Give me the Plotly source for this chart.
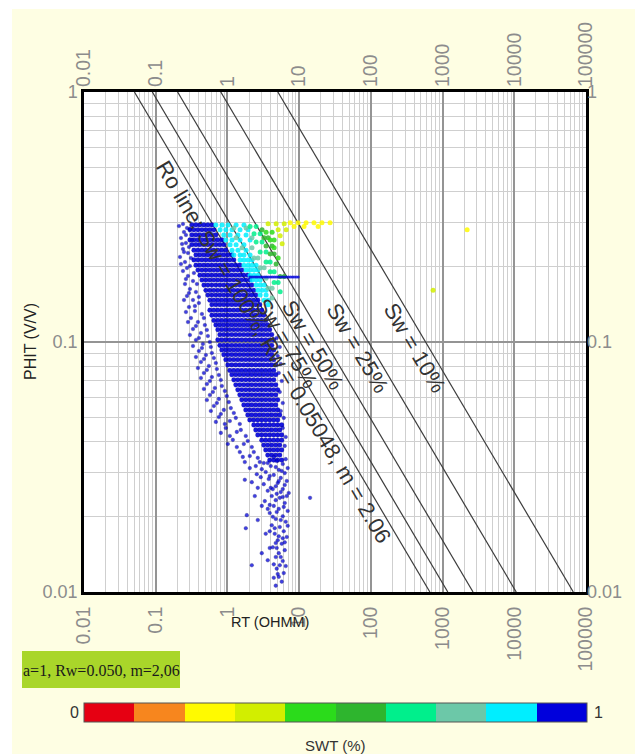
import math
import plotly.graph_objects as go

# ---------------- axis ticks ----------------
x_tickvals = [0.01, 0.1, 1, 10, 100, 1000, 10000, 100000]
x_ticktext = ["0.01", "0.1", "1", "10", "100", "1000", "10000", "100000"]
y_tickvals = [0.01, 0.1, 1]
y_ticktext = ["0.01", "0.1", "1"]

# ---------------- Pickett-plot parameters ----------------
a_coef = 1.0
rw = 0.05048
m_exp = 2.06
n_exp = 2.0
sw_lines = [1.0, 0.75, 0.50, 0.25, 0.10]
sw_labels = ["Ro line: Sw = 100%, Rw = 0.05048, m = 2.06",
             "Sw = 75%", "Sw = 50%", "Sw = 25%", "Sw = 10%"]
label_phi = [0.0964, 0.1047, 0.1028, 0.100, 0.100]
phi_ends = [1.0, 0.01]

# ---------------- SWT colour classes (10 bins) ----------------
swt_colors = ["#E60012", "#F7861E", "#FFFA00", "#D2EE00", "#2BDB1B",
              "#2EB52E", "#00EF8C", "#6CC8A8", "#00EEFF", "#0000DC"]

# ---------------- dense core of the cloud (SWT = 1) ----------------
core_phi_rows = [0.294, 0.281, 0.268, 0.256, 0.245, 0.233, 0.223, 0.213, 0.203, 0.194,
                 0.185, 0.177, 0.169, 0.161, 0.154, 0.147, 0.141, 0.134, 0.128, 0.122,
                 0.117, 0.112, 0.107, 0.102, 0.097, 0.093, 0.089, 0.085, 0.081, 0.077,
                 0.074, 0.0706, 0.0674, 0.0644, 0.0615, 0.0587, 0.056, 0.0535, 0.0511, 0.0488,
                 0.0466, 0.0445, 0.0425, 0.0405, 0.0387, 0.037, 0.0353, 0.0337]
core_rt_rows = [
    [0.320, 0.364, 0.413, 0.470, 0.534, 0.607],
    [0.300, 0.341, 0.388, 0.441, 0.501, 0.569, 0.647],
    [0.320, 0.364, 0.413, 0.470, 0.534, 0.607, 0.690],
    [0.300, 0.341, 0.388, 0.441, 0.501, 0.569, 0.647, 0.735, 0.836],
    [0.320, 0.364, 0.413, 0.470, 0.534, 0.607, 0.690, 0.784, 0.891],
    [0.341, 0.388, 0.441, 0.501, 0.569, 0.647, 0.735, 0.836, 0.950],
    [0.364, 0.413, 0.470, 0.534, 0.607, 0.690, 0.784, 0.891, 1.013, 1.152],
    [0.341, 0.388, 0.441, 0.501, 0.569, 0.647, 0.735, 0.836, 0.950, 1.080, 1.228],
    [0.364, 0.413, 0.470, 0.534, 0.607, 0.690, 0.784, 0.891, 1.013, 1.152, 1.309, 1.488],
    [0.388, 0.441, 0.501, 0.569, 0.647, 0.735, 0.836, 0.950, 1.080, 1.228, 1.396, 1.587],
    [0.413, 0.470, 0.534, 0.607, 0.690, 0.784, 0.891, 1.013, 1.152, 1.309, 1.488, 1.692, 1.923],
    [0.441, 0.501, 0.569, 0.647, 0.735, 0.836, 0.950, 1.080, 1.228, 1.396, 1.587, 1.804, 2.050],
    [0.470, 0.534, 0.607, 0.690, 0.784, 0.891, 1.013, 1.152, 1.309, 1.488, 1.692, 1.923, 2.186],
    [0.501, 0.569, 0.647, 0.735, 0.836, 0.950, 1.080, 1.228, 1.396, 1.587, 1.804, 2.050, 2.331],
    [0.534, 0.607, 0.690, 0.784, 0.891, 1.013, 1.152, 1.309, 1.488, 1.692, 1.923, 2.186, 2.485],
    [0.569, 0.647, 0.735, 0.836, 0.950, 1.080, 1.228, 1.396, 1.587, 1.804, 2.050, 2.331, 2.650],
    [0.607, 0.690, 0.784, 0.891, 1.013, 1.152, 1.309, 1.488, 1.692, 1.923, 2.186, 2.485, 2.825],
    [0.569, 0.647, 0.735, 0.836, 0.950, 1.080, 1.228, 1.396, 1.587, 1.804, 2.050, 2.331, 2.650, 3.012],
    [0.607, 0.690, 0.784, 0.891, 1.013, 1.152, 1.309, 1.488, 1.692, 1.923, 2.186, 2.485, 2.825, 3.21],
    [0.647, 0.735, 0.836, 0.950, 1.080, 1.228, 1.396, 1.587, 1.804, 2.050, 2.331, 2.650, 3.012, 3.42],
    [0.690, 0.784, 0.891, 1.013, 1.152, 1.309, 1.488, 1.692, 1.923, 2.186, 2.485, 2.825, 3.21, 3.65],
    [0.735, 0.836, 0.950, 1.080, 1.228, 1.396, 1.587, 1.804, 2.050, 2.331, 2.650, 3.012, 3.42, 3.89],
    [0.784, 0.891, 1.013, 1.152, 1.309, 1.488, 1.692, 1.923, 2.186, 2.485, 2.825, 3.21, 3.65, 4.15],
    [0.735, 0.836, 0.950, 1.080, 1.228, 1.396, 1.587, 1.804, 2.050, 2.331, 2.650, 3.012, 3.42, 3.89, 4.43],
    [0.784, 0.891, 1.013, 1.152, 1.309, 1.488, 1.692, 1.923, 2.186, 2.485, 2.825, 3.21, 3.65, 4.15],
    [0.836, 0.950, 1.080, 1.228, 1.396, 1.587, 1.804, 2.050, 2.331, 2.650, 3.012, 3.42, 3.89, 4.43],
    [0.891, 1.013, 1.152, 1.309, 1.488, 1.692, 1.923, 2.186, 2.485, 2.825, 3.21, 3.65, 4.15],
    [0.950, 1.080, 1.228, 1.396, 1.587, 1.804, 2.050, 2.331, 2.650, 3.012, 3.42, 3.89, 4.43],
    [1.013, 1.152, 1.309, 1.488, 1.692, 1.923, 2.186, 2.485, 2.825, 3.21, 3.65, 4.15, 4.72],
    [1.080, 1.228, 1.396, 1.587, 1.804, 2.050, 2.331, 2.650, 3.012, 3.42, 3.89, 4.43],
    [1.152, 1.309, 1.488, 1.692, 1.923, 2.186, 2.485, 2.825, 3.21, 3.65, 4.15, 4.72],
    [1.228, 1.396, 1.587, 1.804, 2.050, 2.331, 2.650, 3.012, 3.42, 3.89, 4.43],
    [1.309, 1.488, 1.692, 1.923, 2.186, 2.485, 2.825, 3.21, 3.65, 4.15, 4.72],
    [1.396, 1.587, 1.804, 2.050, 2.331, 2.650, 3.012, 3.42, 3.89, 4.43, 5.03],
    [1.488, 1.692, 1.923, 2.186, 2.485, 2.825, 3.21, 3.65, 4.15, 4.72],
    [1.587, 1.804, 2.050, 2.331, 2.650, 3.012, 3.42, 3.89, 4.43, 5.03],
    [1.692, 1.923, 2.186, 2.485, 2.825, 3.21, 3.65, 4.15, 4.72],
    [1.804, 2.050, 2.331, 2.650, 3.012, 3.42, 3.89, 4.43, 5.03],
    [1.923, 2.186, 2.485, 2.825, 3.21, 3.65, 4.15, 4.72, 5.37],
    [2.050, 2.331, 2.650, 3.012, 3.42, 3.89, 4.43, 5.03],
    [2.331, 2.650, 3.012, 3.42, 3.89, 4.43, 5.03, 5.72],
    [2.485, 2.825, 3.21, 3.65, 4.15, 4.72, 5.37],
    [2.650, 3.012, 3.42, 3.89, 4.43, 5.03, 5.72],
    [3.012, 3.42, 3.89, 4.43, 5.03, 5.72],
    [3.21, 3.65, 4.15, 4.72, 5.37],
    [3.42, 3.89, 4.43, 5.03, 5.72],
    [3.65, 4.15, 4.72, 5.37],
    [3.89, 4.43, 5.03, 5.72],
]

# ---------------- scattered fringe points (SWT = 1) : (RT, PHIT) ----------------
fringe_points = [
    (0.211, 0.291), (0.248, 0.2754), (0.273, 0.2858), (0.225, 0.2606), (0.264, 0.2489),
    (0.240, 0.2355), (0.282, 0.2270), (0.218, 0.2188), (0.256, 0.2089), (0.300, 0.2014),
    (0.240, 0.1923), (0.282, 0.1837), (0.331, 0.1754), (0.256, 0.1706), (0.300, 0.1629),
    (0.364, 0.1585), (0.273, 0.1528), (0.331, 0.1472), (0.400, 0.1432), (0.291, 0.1380),
    (0.352, 0.1330), (0.441, 0.1294), (0.310, 0.1247), (0.388, 0.1202), (0.485, 0.1169),
    (0.331, 0.1127), (0.427, 0.1086), (0.534, 0.1057), (0.364, 0.1019), (0.455, 0.0982),
    (0.588, 0.0955), (0.400, 0.0920), (0.501, 0.0887), (0.647, 0.0863), (0.427, 0.0832),
    (0.551, 0.0802), (0.712, 0.0780), (0.470, 0.0752), (0.607, 0.0724), (0.810, 0.0705),
    (0.517, 0.0679), (0.668, 0.0655), (0.920, 0.0637), (0.569, 0.0614), (0.759, 0.0592),
    (1.046, 0.0575), (0.647, 0.0555), (0.891, 0.0535), (1.228, 0.0520), (0.759, 0.0501),
    (1.080, 0.0483), (1.488, 0.0470), (0.950, 0.0453), (1.352, 0.0437), (1.804, 0.0421),
    (1.189, 0.0406), (1.692, 0.0391), (2.186, 0.0380), (1.488, 0.0363), (2.050, 0.0350),
    (2.650, 0.0344), (1.747, 0.0331), (2.485, 0.0319), (3.012, 0.0310),
    (1.747, 0.0281), (1.862, 0.0203), (1.804, 0.0180), (3.012, 0.0143), (2.186, 0.0128),
    (14.2, 0.0238),
    (0.240, 0.2965), (0.300, 0.2831), (0.264, 0.2679), (0.320, 0.2559), (0.233, 0.2466),
    (0.291, 0.2399), (0.248, 0.2291), (0.310, 0.2168), (0.225, 0.2051), (0.273, 0.1977),
    (0.341, 0.1888), (0.264, 0.1786), (0.376, 0.1706), (0.291, 0.1570), (0.400, 0.1514),
    (0.248, 0.1472), (0.352, 0.1393), (0.264, 0.1318), (0.470, 0.1247), (0.364, 0.1159),
    (0.282, 0.1202), (0.517, 0.1117), (0.400, 0.1038), (0.300, 0.1067), (0.569, 0.1000),
    (0.441, 0.0946), (0.331, 0.0964), (0.607, 0.0904), (0.470, 0.0855), (0.364, 0.0871),
    (0.690, 0.0824), (0.517, 0.0773), (0.388, 0.0787), (0.759, 0.0738), (0.569, 0.0698),
    (0.427, 0.0718), (0.836, 0.0667), (0.627, 0.0631), (0.470, 0.0649), (0.981, 0.0608),
    (0.712, 0.0570), (0.517, 0.0586), (1.115, 0.0544), (0.810, 0.0515), (0.588, 0.0530),
    (1.309, 0.0497), (0.920, 0.0470), (0.690, 0.0479), (1.537, 0.0445), (1.080, 0.0421),
    (0.810, 0.0433), (1.923, 0.0402), (1.352, 0.0380), (1.013, 0.0391), (2.331, 0.0363),
    (1.638, 0.0347), (2.825, 0.0331), (2.050, 0.0313), (2.566, 0.0296), (2.186, 0.0275),
    (2.650, 0.0261), (2.407, 0.0242), (3.012, 0.0221), (2.650, 0.0194), (3.42, 0.0171),
    (3.89, 0.0150), (3.65, 0.0134), (4.43, 0.0114),
    (4.43, 0.0347), (6.50, 0.0340), (3.21, 0.0328), (5.91, 0.0325), (6.93, 0.0313),
    (3.42, 0.0302), (6.30, 0.0299), (2.917, 0.0288), (3.77, 0.0283), (6.72, 0.0278),
    (3.21, 0.0270), (4.72, 0.0265), (5.91, 0.0258), (3.65, 0.0254), (7.16, 0.0249),
    (4.15, 0.0242), (5.37, 0.0238), (3.32, 0.0231), (6.30, 0.0227), (4.43, 0.0221),
    (5.20, 0.0215), (6.93, 0.0211), (3.89, 0.0207), (5.91, 0.0201), (4.72, 0.0196),
    (6.50, 0.0191), (4.15, 0.0185), (5.37, 0.0182), (6.10, 0.0175), (4.57, 0.0171),
    (6.72, 0.0166), (5.03, 0.0161), (5.72, 0.0156), (4.29, 0.0151), (6.30, 0.0147),
    (5.20, 0.0143), (4.72, 0.0138), (5.91, 0.0133), (5.37, 0.0128), (4.87, 0.0124),
    (6.10, 0.0119), (5.20, 0.0115), (5.72, 0.0110), (4.72, 0.0106),
    (4.87, 0.0334), (4.02, 0.0319), (5.20, 0.0308), (4.43, 0.0294), (5.54, 0.0286),
    (5.03, 0.0273), (4.02, 0.0261), (4.87, 0.0247), (5.91, 0.0240), (3.89, 0.0223),
    (4.87, 0.0209), (5.54, 0.0194), (4.57, 0.0180), (5.20, 0.0167), (6.30, 0.0158),
    (4.87, 0.0150),
    (3.65, 0.0328), (4.72, 0.0316), (5.72, 0.0305), (3.89, 0.0291), (5.20, 0.0278),
    (6.30, 0.0268), (4.29, 0.0258), (5.54, 0.0251), (6.72, 0.0242), (4.72, 0.0233),
    (3.65, 0.0215), (6.10, 0.0219), (4.29, 0.0200), (6.93, 0.0184), (3.89, 0.0175),
    (5.91, 0.0164), (4.72, 0.0157), (5.54, 0.0138), (4.43, 0.0129), (6.50, 0.0127),
    (5.03, 0.0118),
    (4.87, 0.1038), (5.37, 0.0955), (5.03, 0.0879), (5.54, 0.0817), (5.20, 0.0752),
    (5.72, 0.0698), (5.37, 0.0631), (5.91, 0.0570), (5.54, 0.0530), (6.10, 0.0497),
    (5.91, 0.0453), (6.50, 0.0417), (6.30, 0.0384),
]
fringe_swt = 1.0
core_swt = 1.0

# ---------------- partially saturated points (SWT < 1) ----------------
swt_group_values = [0.85, 0.75, 0.65, 0.55, 0.45, 0.35, 0.25]
swt_group_points = [
    # cyan
    [(0.69, 0.294), (0.84, 0.294), (1.02, 0.294), (1.32, 0.294), (1.7, 0.294),
     (0.79, 0.281), (0.95, 0.281), (1.16, 0.281), (1.5, 0.281), (1.94, 0.281),
     (0.89, 0.268), (1.09, 0.268), (1.4, 0.268), (1.82, 0.268),
     (0.95, 0.256), (1.16, 0.256), (1.5, 0.256), (2.07, 0.256),
     (1.09, 0.245), (1.32, 0.245), (1.7, 0.245),
     (1.16, 0.233), (1.4, 0.233), (1.82, 0.233),
     (1.23, 0.223), (1.5, 0.223), (1.7, 0.223), (2.07, 0.223),
     (1.5, 0.213), (1.7, 0.213), (1.94, 0.213), (2.2, 0.213),
     (1.7, 0.203), (1.94, 0.203), (2.2, 0.203), (2.51, 0.203),
     (1.82, 0.194), (2.07, 0.194), (2.35, 0.194), (2.67, 0.194),
     (2.07, 0.185), (2.35, 0.185), (2.67, 0.185),
     (2.2, 0.177), (2.51, 0.177), (2.86, 0.177),
     (2.51, 0.169), (2.86, 0.169), (3.25, 0.169),
     (2.67, 0.161), (3.04, 0.161), (3.46, 0.161),
     (2.86, 0.154), (3.46, 0.154), (3.25, 0.147), (3.69, 0.147), (3.69, 0.141)],
    # teal
    [(1.23, 0.286), (1.82, 0.286), (1.32, 0.261), (2.2, 0.261), (1.6, 0.238), (2.2, 0.238),
     (2.35, 0.217), (2.67, 0.217), (2.86, 0.198), (3.25, 0.198), (3.46, 0.18),
     (3.69, 0.164), (4.2, 0.164), (4.2, 0.15)],
    # spring green
    [(2.07, 0.29), (2.51, 0.29), (2.35, 0.271), (2.86, 0.271), (2.51, 0.251), (3.04, 0.251),
     (2.86, 0.229), (3.46, 0.229), (3.46, 0.209), (3.94, 0.209), (3.94, 0.191), (4.48, 0.191),
     (4.48, 0.173), (5.1, 0.173), (5.44, 0.159)],
    # dark green
    [(3.04, 0.281), (3.25, 0.261), (3.69, 0.261), (3.46, 0.242), (4.2, 0.242),
     (3.94, 0.225), (4.48, 0.225), (4.78, 0.205), (5.44, 0.183), (6.19, 0.183)],
    # green
    [(3.46, 0.275), (4.2, 0.275), (3.94, 0.256), (4.48, 0.256), (4.48, 0.238), (5.1, 0.217)],
    # yellow-green
    [(3.69, 0.297), (4.78, 0.297), (6.19, 0.297), (5.1, 0.281), (6.6, 0.281),
     (5.44, 0.266), (5.8, 0.247), (738.0, 0.161)],
    # yellow
    [(7.5, 0.30), (9.66, 0.30), (12.5, 0.30), (16.1, 0.30), (20.8, 0.30), (27.0, 0.30),
     (8.5, 0.29), (11.7, 0.29), (18.4, 0.29), (2200.0, 0.281)],
]

# horizontal streak of points at constant porosity
streak_phi = 0.182
streak_rt = [2.07, 2.2, 2.35, 2.51, 2.67, 2.86, 3.04, 3.25, 3.46, 3.69, 3.94, 4.2, 4.48,
             4.78, 5.1, 5.44, 5.8, 6.19, 6.6, 7.04, 7.5, 8.0, 8.5, 9.1, 9.7]
streak_swt = 1.0

# ---------------- assemble point arrays ----------------
core_rt, core_phi = [], []
for phi, row in zip(core_phi_rows, core_rt_rows):
    for rt in row:
        core_rt.append(rt); core_phi.append(phi)

fr_rt = [p[0] for p in fringe_points]
fr_phi = [p[1] for p in fringe_points]

col_rt, col_phi, col_swt = [], [], []
for val, pts in zip(swt_group_values, swt_group_points):
    for rt, phi in pts:
        col_rt.append(rt); col_phi.append(phi); col_swt.append(val)

# discrete colour scale
colorscale = []
nb = len(swt_colors)
for i, c in enumerate(swt_colors):
    colorscale.append([i / nb, c])
    colorscale.append([(i + 1) / nb, c])

# ---------------- figure ----------------
W, H = 635, 754
ML, MR, MT, MB = 84, 49, 92, 162
PW, PH = W - ML - MR, H - MT - MB

def px_x(px):
    return (px - ML) / PW

def px_y(py):
    return (H - MB - py) / PH

fig = go.Figure()

# Sw lines (Archie: Rt = a*Rw / (phi^m * Sw^n))
for sw in sw_lines:
    xs = [a_coef * rw / (p ** m_exp * sw ** n_exp) for p in phi_ends]
    fig.add_trace(go.Scatter(x=xs, y=phi_ends, mode="lines",
                             line=dict(color="#3c3c3c", width=1.2),
                             showlegend=False, hoverinfo="skip"))

mk_common = dict(cmin=0, cmax=1, colorscale=colorscale)

fig.add_trace(go.Scatter(
    x=core_rt, y=core_phi, mode="markers", showlegend=False, name="SWT",
    marker=dict(size=4.7, color=[core_swt] * len(core_rt), **mk_common, opacity=0.9,
                line=dict(width=0.4, color="rgba(0,0,120,0.6)"),
                colorbar=dict(orientation="h", x=px_x(335.5), xanchor="center",
                              y=px_y(712.5), yanchor="middle", len=503, lenmode="pixels",
                              thickness=19, thicknessmode="pixels", outlinewidth=1,
                              outlinecolor="#555555", showticklabels=False, ticks="",
                              xpad=0, ypad=0)),
))
fig.add_trace(go.Scatter(
    x=fr_rt, y=fr_phi, mode="markers", showlegend=False,
    marker=dict(size=3.6, color=[fringe_swt] * len(fr_rt), **mk_common,
                opacity=0.75, line=dict(width=0.6, color="rgba(0,0,110,0.7)")),
))
fig.add_trace(go.Scatter(
    x=col_rt, y=col_phi, mode="markers", showlegend=False,
    marker=dict(size=5, color=col_swt, **mk_common, opacity=0.85),
))
fig.add_trace(go.Scatter(
    x=streak_rt, y=[streak_phi] * len(streak_rt), mode="markers", showlegend=False,
    marker=dict(size=3, color=[streak_swt] * len(streak_rt), **mk_common, opacity=0.8),
))

# invisible trace to carry top / right axes
fig.add_trace(go.Scatter(x=[0.01, 100000], y=[0.01, 1], xaxis="x2", yaxis="y2",
                         mode="markers", marker=dict(opacity=0), showlegend=False,
                         hoverinfo="skip"))

tickfont = dict(family="Liberation Sans, Arial", size=19.5, color="#8c8c8c")
ytickfont = dict(family="Liberation Sans, Arial", size=18, color="#8c8c8c")
common_x = dict(type="log", range=[-2, 5], tickmode="array", tickvals=x_tickvals,
                ticktext=x_ticktext, tickangle=-90, tickfont=tickfont, ticks="",
                zeroline=False, ticklabelstandoff=4)
common_y = dict(type="log", range=[-2, 0], tickmode="array", tickvals=y_tickvals,
                ticktext=y_ticktext, tickangle=0, tickfont=ytickfont, ticks="",
                zeroline=False)

fig.update_layout(
    width=W, height=H,
    margin=dict(l=ML, r=MR, t=MT, b=MB),
    paper_bgcolor="#FEFEE3", plot_bgcolor="#FFFFFF",
    font=dict(family="Liberation Sans, Arial", color="#333333"),
    xaxis=dict(**common_x, showgrid=True, gridcolor="#949494", gridwidth=1.6,
               minor=dict(dtick="D1", showgrid=True, gridcolor="#cfcfcf", gridwidth=1),
               showline=True, linecolor="#000000", linewidth=2.5, mirror=True),
    yaxis=dict(**common_y, showgrid=True, gridcolor="#949494", gridwidth=1.6,
               minor=dict(dtick="D1", showgrid=True, gridcolor="#cfcfcf", gridwidth=1),
               showline=True, linecolor="#000000", linewidth=2.5, mirror=True),
    xaxis2=dict(**common_x, overlaying="x", side="top", anchor="y", showgrid=False,
                showline=False),
    yaxis2=dict(**common_y, overlaying="y", side="right", anchor="x", showgrid=False,
                showline=False),
)

# white page strips (top and left edge)
fig.add_shape(type="rect", xref="paper", yref="paper", x0=px_x(0), x1=px_x(W),
              y0=px_y(9), y1=px_y(0), fillcolor="#FFFFFF", line=dict(width=0), layer="below")
fig.add_shape(type="rect", xref="paper", yref="paper", x0=px_x(0), x1=px_x(12),
              y0=px_y(H), y1=px_y(0), fillcolor="#FFFFFF", line=dict(width=0), layer="below")

# line labels, placed along each Sw line
xpd = PW / 7.0
ypd = PH / 2.0
theta = math.atan((ypd / m_exp) / xpd)
off = 12
for sw, txt, lp in zip(sw_lines, sw_labels, label_phi):
    rt = a_coef * rw / (lp ** m_exp * sw ** n_exp)
    fig.add_annotation(x=math.log10(rt), y=math.log10(lp), xref="x", yref="y",
                       text=txt, showarrow=False, textangle=math.degrees(theta),
                       xanchor="center", yanchor="middle",
                       xshift=-off * math.sin(theta), yshift=-off * math.cos(theta),
                       font=dict(size=22, color="#333333"))

def note(px, py, text, **kw):
    fig.add_annotation(x=px_x(px), y=px_y(py), xref="paper", yref="paper", text=text,
                       showarrow=False, xanchor="center", yanchor="middle", **kw)

# axis titles
note(30, 342, "PHIT (V/V)", textangle=-90, font=dict(size=16, color="#222222"))
note(270, 622, "RT (OHMM)", font=dict(size=14.5, color="#222222"))

# parameter box
fig.add_shape(type="rect", xref="paper", yref="paper", x0=px_x(22), x1=px_x(180),
              y0=px_y(688), y1=px_y(651), fillcolor="#A9D62A", line=dict(width=0))
note(101, 670, "a=1, Rw=0.050, m=2,06",
     font=dict(family="Liberation Serif, Times New Roman", size=16, color="#1a1a1a"))

# colour bar end labels and title
note(74, 712, "0", font=dict(size=16, color="#333333"))
note(598, 712, "1", font=dict(size=16, color="#333333"))
note(335, 745, "SWT (%)", font=dict(size=15, color="#333333"))

fig.write_html("out.html")
